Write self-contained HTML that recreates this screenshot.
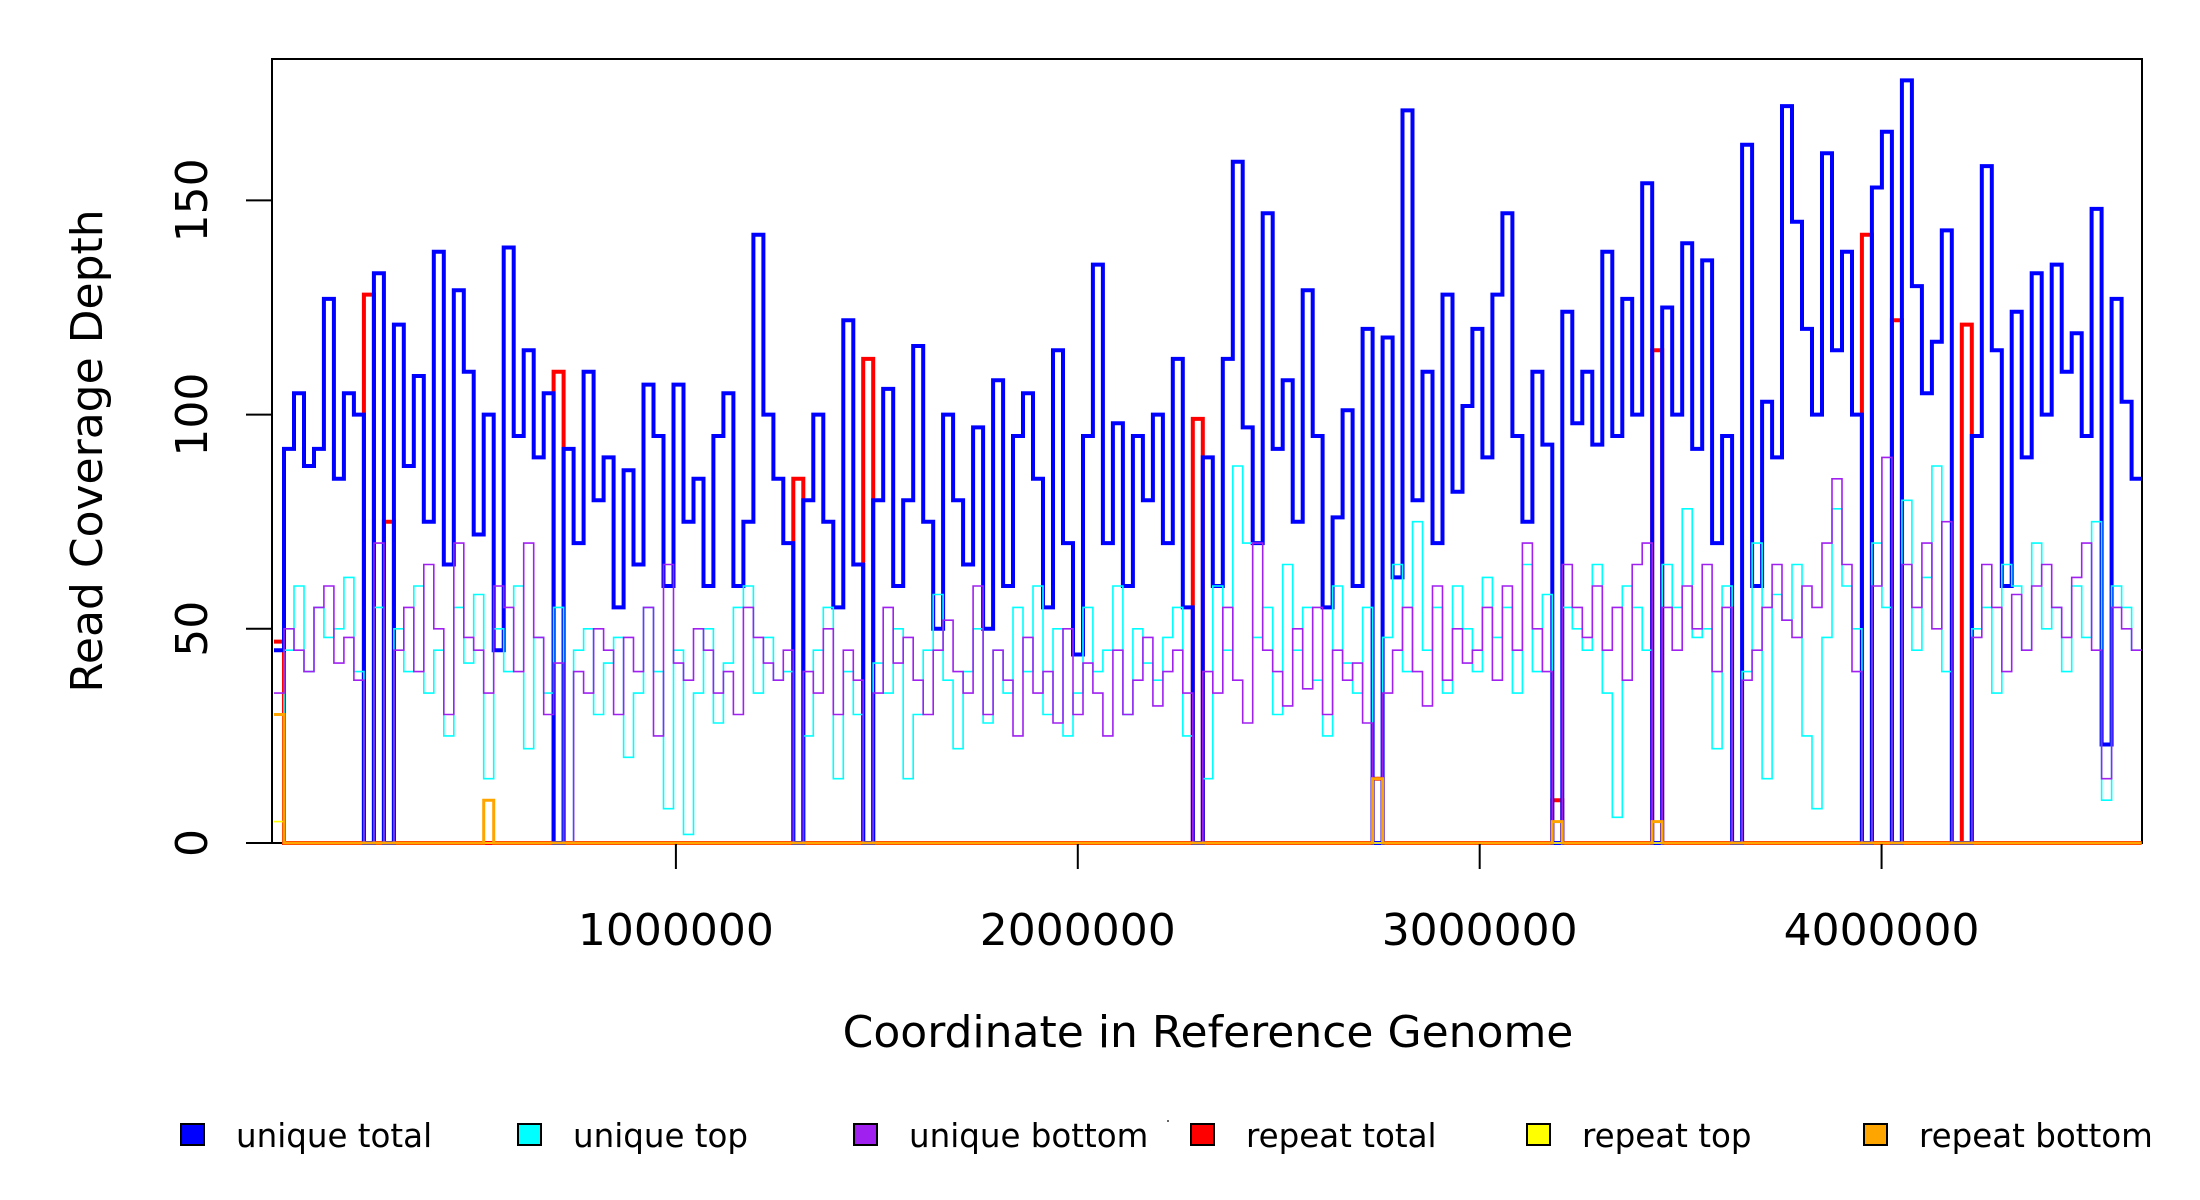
<!DOCTYPE html>
<html><head><meta charset="utf-8"><style>
html,body{margin:0;padding:0;background:#fff;}
svg{display:block;font-family:"DejaVu Sans","Liberation Sans",sans-serif;}
</style></head><body>
<svg id="chart" width="2200" height="1200" viewBox="0 0 2200 1200" xmlns="http://www.w3.org/2000/svg">
<rect x="0" y="0" width="2200" height="1200" fill="#fff"/>
<rect x="272" y="59" width="1870" height="784" fill="none" stroke="#000" stroke-width="2"/>
<g id="marks"></g>
<g id="axes"></g>
<text x="1208" y="1047" font-size="44" text-anchor="middle">Coordinate in Reference Genome</text>
<text transform="translate(102,451) rotate(-90)" font-size="44" text-anchor="middle">Read Coverage Depth</text>
<g id="legend"></g>
<rect x="1167" y="1120" width="2" height="2" fill="#666"/>
</svg>
<script>
const binSize = 24850;
const uniqueTotal = [45,92,105,88,92,127,85,105,100,0,133,0,121,88,109,75,138,65,129,110,72,100,45,139,95,115,90,105,0,92,70,110,80,90,55,87,65,107,95,60,107,75,85,60,95,105,60,75,142,100,85,70,0,80,100,75,55,122,65,0,80,106,60,80,116,75,50,100,80,65,97,50,108,60,95,105,85,55,115,70,44,95,135,70,98,60,95,80,100,70,113,55,0,90,60,113,159,97,70,147,92,108,75,129,95,55,76,101,60,120,0,118,62,171,80,110,70,128,82,102,120,90,128,147,95,75,110,93,0,124,98,110,93,138,95,127,100,154,0,125,100,140,92,136,70,95,0,163,60,103,90,172,145,120,100,161,115,138,100,0,153,166,0,178,130,105,117,143,0,0,95,158,115,60,124,90,133,100,135,110,119,95,148,23,127,103,85];
const uniqueTop = [30,45,60,40,55,48,50,62,40,0,55,0,50,40,60,35,45,25,55,42,58,15,50,40,60,22,48,35,55,0,45,50,30,42,48,20,35,55,40,8,45,2,35,50,28,42,55,60,35,48,38,40,0,25,45,55,15,40,30,0,42,35,50,15,30,45,58,38,22,40,50,28,45,35,55,40,60,30,50,25,35,55,40,45,60,30,50,42,38,48,55,25,0,15,60,45,88,70,48,55,30,65,45,55,38,25,60,42,35,55,0,48,65,40,75,45,55,35,60,50,40,62,48,55,35,65,40,58,0,55,50,45,65,35,6,60,55,45,0,65,55,78,48,50,22,60,0,40,70,15,58,52,65,25,8,48,78,60,50,0,70,55,0,80,45,62,88,40,0,0,50,55,35,65,60,45,70,50,55,40,60,48,75,10,60,55,45];
const uniqueBottom = [35,50,45,40,55,60,42,48,38,0,70,0,45,55,40,65,50,30,70,48,45,35,60,55,40,70,48,30,42,0,40,35,50,45,30,48,40,55,25,65,42,38,50,45,35,40,30,55,48,42,38,45,0,40,35,50,30,45,38,0,35,55,42,48,38,30,45,52,40,35,60,30,45,38,25,48,35,40,28,50,30,42,35,25,45,30,38,48,32,40,45,35,0,40,35,55,38,28,70,45,40,32,50,36,55,30,45,38,42,28,0,35,45,55,40,32,60,38,50,42,45,55,38,60,45,70,50,40,0,65,55,48,60,45,55,38,65,70,0,55,45,60,50,65,40,55,0,38,45,55,65,52,48,60,55,70,85,65,40,0,60,90,0,65,55,70,50,75,0,0,48,65,55,40,58,45,60,65,55,48,62,70,45,15,55,50,45];
const repeatTotalBins = [0,9,11,28,52,59,92,110,128,138,159,162,169];
const repeatTotalVals = [47,128,75,110,85,113,99,15,10,115,142,122,121];
const repeatTopBins = [0];
const repeatTopVals = [5];
const repeatBottomBins = [0,21,110,128,138];
const repeatBottomVals = [30,10,15,5,5];
const xTicks = [1000000,2000000,3000000,4000000];
const xTickLabels = ["1000000","2000000","3000000","4000000"];
const yTicks = [0,50,100,150];
const yTickLabels = ["0","50","100","150"];
const legendLabels = ["unique total","unique top","unique bottom","repeat total","repeat top","repeat bottom"];
const legendColors = ["#0000ff","#00ffff","#a020f0","#ff0000","#ffff00","#ffa500"];

const NS="http://www.w3.org/2000/svg";
const L=272,R=2142,T=59,B=843, X0=-5000, XMAX=4648000, YMAX=183;
const nBins = uniqueTotal.length;
function sx(v){return L+((v-X0)/(XMAX-X0))*(R-L);}
function sy(v){return B-(v/YMAX)*(B-T);}
const marks=document.getElementById('marks');
const clip=document.createElementNS(NS,'clipPath');clip.setAttribute('id','pc');
const cr=document.createElementNS(NS,'rect');cr.setAttribute('x',L);cr.setAttribute('y',T);cr.setAttribute('width',R-L);cr.setAttribute('height',B-T+3);
clip.appendChild(cr);document.getElementById('chart').appendChild(clip);
marks.setAttribute('clip-path','url(#pc)');
function stepPath(vals){
  let d='';
  for(let i=0;i<vals.length;i++){
    const x0=sx(i*binSize),x1=sx((i+1)*binSize),y=sy(vals[i]);
    d+=(i===0?'M':'L')+x0.toFixed(1)+','+y.toFixed(1)+'L'+x1.toFixed(1)+','+y.toFixed(1);
  }
  return d;
}
function sparse(bins,vals){const a=new Array(nBins).fill(0);bins.forEach((b,i)=>{a[b]=vals[i];});return a;}
function addSeries(vals,color,w,name){
  const p=document.createElementNS(NS,'path');
  p.setAttribute('d',stepPath(vals));p.setAttribute('fill','none');p.setAttribute('stroke',color);
  p.setAttribute('stroke-width',w);p.setAttribute('stroke-linejoin','miter');
  
  
  marks.appendChild(p);
}
addSeries(sparse(repeatTotalBins,repeatTotalVals),'#ff0000',4,'repeat-total-line');
addSeries(uniqueTotal,'#0000ff',4,'unique-total-line');
addSeries(uniqueTop,'#00ffff',1.6,'unique-top-line');
addSeries(uniqueBottom,'#a020f0',1.6,'unique-bottom-line');
addSeries(sparse(repeatTopBins,repeatTopVals),'#ffff00',1.6,'repeat-top-line');
addSeries(sparse(repeatBottomBins,repeatBottomVals),'#ffa500',3,'repeat-bottom-line');

const axes=document.getElementById('axes');
function line(x1,y1,x2,y2,name){const l=document.createElementNS(NS,'line');l.setAttribute('x1',x1);l.setAttribute('y1',y1);l.setAttribute('x2',x2);l.setAttribute('y2',y2);l.setAttribute('stroke','#000');l.setAttribute('stroke-width',2);


axes.appendChild(l);}
xTicks.forEach((v,i)=>{
  const x=sx(v);line(x,B+1,x,B+26,'x-tick');
  const t=document.createElementNS(NS,'text');t.setAttribute('x',x);t.setAttribute('y',B+102);t.setAttribute('font-size',44);t.setAttribute('text-anchor','middle');t.textContent=xTickLabels[i];
  
  
  axes.appendChild(t);
});
yTicks.forEach((v,i)=>{
  const y=sy(v);line(L-26,y,L,y,'y-tick');
  const t=document.createElementNS(NS,'text');t.setAttribute('font-size',44);t.setAttribute('text-anchor','middle');
  t.setAttribute('transform','translate('+(L-65)+','+y+') rotate(-90)');t.textContent=yTickLabels[i];
  
  
  axes.appendChild(t);
});
const legend=document.getElementById('legend');
const lx=[181,518,854,1191,1527,1864];
legendLabels.forEach((lab,i)=>{
  const g=document.createElementNS(NS,'g');
  
  
  const r=document.createElementNS(NS,'rect');r.setAttribute('x',lx[i]);r.setAttribute('y',1124);r.setAttribute('width',23);r.setAttribute('height',21);r.setAttribute('fill',legendColors[i]);r.setAttribute('stroke','#000');r.setAttribute('stroke-width',2);
  
  
  const t=document.createElementNS(NS,'text');t.setAttribute('x',lx[i]+55);t.setAttribute('y',1147);t.setAttribute('font-size',32.5);t.textContent=lab;
  
  
  g.appendChild(r);g.appendChild(t);legend.appendChild(g);
});
</script>
</body></html>
